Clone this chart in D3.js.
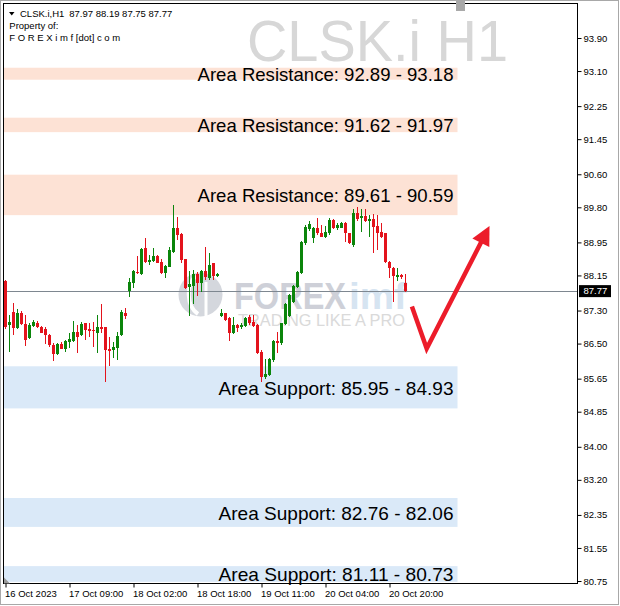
<!DOCTYPE html>
<html><head><meta charset="utf-8">
<script src="https://cdn.jsdelivr.net/npm/d3@7"></script>
<style>html,body{margin:0;padding:0;background:#fff;} svg{display:block;}</style>
</head><body>
<svg id="c" width="620" height="606"></svg>
<script>
// ---------------- DATA ----------------
const symbolTitle = "CLSK.i,H1";
const watermarkTitle = "CLSK.i H1";
const headerOHLC = [87.97, 88.19, 87.75, 87.77];
const lastPrice = 87.77;

const opens = [88.01,86.95,87.27,86.87,87.25,86.97,86.63,86.92,87.01,86.91,
86.85,86.71,86.47,86.25,86.49,86.38,86.55,86.57,86.77,86.71,
86.99,86.86,86.84,86.76,86.91,86.89,86.37,86.34,86.39,86.71,
87.24,87.78,87.96,88.24,88.18,88.81,88.47,88.51,88.62,88.48,
88.20,88.36,88.72,89.29,89.15,88.54,87.86,87.89,88.18,87.96,
88.26,88.08,88.44,88.14,87.17,87.23,87.11,86.76,86.95,86.89,
86.92,87.14,87.03,86.95,86.30,85.69,85.74,86.10,86.57,86.51,
86.97,87.17,87.51,87.86,88.20,88.93,89.27,89.05,89.29,89.17,
89.09,89.17,89.49,89.29,89.31,89.43,89.17,88.89,89.67,89.53,
89.59,89.48,89.51,89.35,89.21,89.17,88.48,88.32,88.12,88.16,
87.97];
const highs = [88.04,87.19,87.49,87.33,87.30,87.19,87.00,87.07,87.05,86.92,
86.89,86.72,86.51,86.52,86.53,86.59,86.75,87.05,86.95,87.03,
87.00,87.00,87.03,87.19,87.46,86.91,86.67,86.55,86.79,87.31,
87.35,88.08,88.28,88.62,88.81,89.05,88.64,88.81,88.64,88.56,
88.40,88.85,89.86,89.57,89.17,88.56,88.26,88.28,88.24,88.28,
88.85,88.70,88.46,88.20,87.33,87.25,87.14,87.15,86.97,86.99,
87.14,87.19,87.19,86.97,86.34,86.13,86.15,86.59,86.79,87.01,
87.49,87.70,87.92,88.26,88.99,89.37,89.48,89.33,89.53,89.37,
89.35,89.53,89.51,89.43,89.45,89.45,89.18,89.75,89.80,89.75,
89.75,89.61,89.64,89.61,89.43,89.18,88.51,88.36,88.32,88.18,
88.19];
const lows = [86.85,86.30,86.71,86.85,86.95,86.45,86.60,86.89,86.87,86.75,
86.49,86.42,86.08,86.22,86.36,86.30,86.39,86.55,86.28,86.68,
86.59,86.67,86.42,86.28,86.75,85.58,85.96,86.16,86.10,86.68,
87.09,87.62,87.84,88.18,88.16,88.44,88.40,88.48,88.44,88.18,
88.08,88.35,88.70,89.02,88.46,87.81,87.17,87.47,87.65,87.76,
88.04,88.04,88.04,88.10,87.15,87.05,86.57,86.73,86.79,86.85,
86.89,86.95,86.89,86.25,85.58,85.64,85.71,86.06,86.26,86.47,
86.95,87.15,87.48,87.85,88.18,88.89,89.23,88.93,89.13,89.07,
89.05,89.13,89.27,89.25,89.29,88.97,88.91,88.85,89.48,89.21,
89.45,89.07,88.69,88.77,89.05,88.46,88.08,87.51,88.02,88.06,
87.75];
const closes = [86.90,87.03,86.87,87.23,86.97,86.59,86.95,87.03,86.89,86.76,
86.71,86.47,86.25,86.49,86.38,86.57,86.60,86.77,86.67,86.97,
86.83,86.81,86.80,86.91,86.86,86.34,86.33,86.42,86.68,87.27,
87.17,87.98,88.26,88.20,88.78,88.48,88.52,88.62,88.46,88.20,
88.38,88.77,89.29,89.13,88.52,87.84,87.94,88.18,87.97,88.26,
88.10,88.40,88.14,88.18,87.23,87.07,86.76,86.95,86.87,86.95,
87.11,86.99,86.92,86.26,85.70,85.76,86.12,86.57,86.51,86.99,
87.47,87.68,87.89,88.24,88.97,89.33,89.39,89.29,89.17,89.09,
89.21,89.49,89.29,89.37,89.43,89.17,88.93,89.65,89.51,89.59,
89.48,89.51,89.33,89.17,89.09,88.48,88.32,88.14,88.16,88.10,
87.77];

const xTickBars = [0, 16, 32, 48, 64, 80, 96];
const xTickLabels = ["16 Oct 2023", "17 Oct 09:00", "18 Oct 02:00", "18 Oct 18:00", "19 Oct 11:00", "20 Oct 04:00", "20 Oct 20:00"];
const yTicks = [93.90, 93.10, 92.25, 91.45, 90.60, 89.80, 88.95, 88.15, 87.30, 86.50, 85.65, 84.85, 84.00, 83.20, 82.35, 81.55, 80.75];

const resistanceLow  = [92.89, 91.62, 89.61];
const resistanceHigh = [93.18, 91.97, 90.59];
const supportHigh = [85.95, 82.76, 81.11];
const supportLow  = [84.93, 82.06, 80.73];
const bandEndBar = 113;

const arrowBars   = [101.6, 105.3, 121.0];
const arrowPrices = [87.40, 86.38, 89.35];

// ---------------- LAYOUT ----------------
const plotL = 3.5, plotR = 577.5, plotT = 3.5, plotB = 583.5;
const svg = d3.select("#c");
const x = d3.scaleLinear().domain([0, 100]).range([5.5, 405.5]);
const y = d3.scaleLinear().domain([80.75, 93.90]).range([581, 38]);
const FONT = "'Liberation Sans', Arial, sans-serif";
const BULL = "#0b850b", BEAR = "#e3131c";

svg.append("rect").attr("x",0).attr("y",0).attr("width",620).attr("height",606).attr("fill","#fff");

// bands
const bands = [];
resistanceLow.forEach((lo,i)=>bands.push({lo, hi:resistanceHigh[i], type:"res", label:`Area Resistance: ${lo.toFixed(2)} - ${resistanceHigh[i].toFixed(2)}`}));
supportHigh.forEach((hi,i)=>bands.push({lo:supportLow[i], hi, type:"sup", label:`Area Support: ${hi.toFixed(2)} - ${supportLow[i].toFixed(2)}`}));

svg.append("g").selectAll("rect").data(bands).join("rect")
  .attr("x", plotL + 0.5)
  .attr("width", d => x(bandEndBar) - plotL - 0.5)
  .attr("y", d => y(d.hi))
  .attr("height", d => Math.min(y(d.lo), plotB) - y(d.hi))
  .attr("fill", d => d.type === "res" ? "#fde2d5" : "#dae9f8");

// big watermark
svg.append("text").attr("x", 247).attr("y", 61)
  .attr("font-family", FONT).attr("font-size", 58)
  .attr("textLength", 261).attr("lengthAdjust", "spacingAndGlyphs")
  .attr("fill", "#d7d7d7").text(watermarkTitle);

// FOREXimf logo watermark
const logo = svg.append("g").attr("opacity", 0.9);
logo.append("circle").attr("cx", 200.5).attr("cy", 294.5).attr("r", 22).attr("fill", "#d0d3da");
logo.append("path").attr("d", "M196,276 C186,284 186,306 198,314").attr("fill","none").attr("stroke","#fff").attr("stroke-width",4);
logo.append("path").attr("d", "M206,282 L206,316").attr("fill","none").attr("stroke","#fff").attr("stroke-width",3);
const lt = logo.append("text").attr("y", 308.5).attr("font-family", FONT).attr("font-weight","bold").attr("font-size", 36);
lt.append("tspan").attr("x", 234).attr("textLength", 112).attr("lengthAdjust","spacingAndGlyphs").attr("fill", "#c9ccd4").text("FOREX");
lt.append("tspan").attr("x", 349).attr("textLength", 58).attr("lengthAdjust","spacingAndGlyphs").attr("fill", "#d2e2f0").text("imf");
logo.append("text").attr("x", 238).attr("y", 325.5).attr("font-family", FONT).attr("font-size", 16)
  .attr("textLength", 167).attr("lengthAdjust","spacingAndGlyphs")
  .attr("fill", "#d6d6d6").text("TRADING LIKE A PRO");

// last price line
svg.append("line").attr("x1", plotL).attr("x2", plotR).attr("y1", Math.round(y(lastPrice)) + 0.5).attr("y2", Math.round(y(lastPrice)) + 0.5)
  .attr("stroke", "#7e8790").attr("stroke-width", 1);

// candles
const candles = opens.map((o,i)=>({i, o, h:highs[i], l:lows[i], c:closes[i]}));
const cg = svg.append("g").attr("shape-rendering","crispEdges");
cg.selectAll("line").data(candles).join("line")
  .attr("x1", d => x(d.i)).attr("x2", d => x(d.i))
  .attr("y1", d => y(d.h)).attr("y2", d => y(d.l))
  .attr("stroke", d => d.c >= d.o ? BULL : BEAR).attr("stroke-width", 1);
cg.selectAll("rect").data(candles).join("rect")
  .attr("x", d => x(d.i) - 1.5).attr("width", 3)
  .attr("y", d => y(Math.max(d.o, d.c)))
  .attr("height", d => Math.max(1.5, Math.abs(y(d.o) - y(d.c))))
  .attr("fill", d => d.c >= d.o ? BULL : BEAR);

// band labels
svg.append("g").selectAll("text").data(bands).join("text")
  .attr("x", x(bandEndBar) - 4)
  .attr("y", d => (y(d.hi) + y(d.lo)) / 2 + 7.5)
  .attr("text-anchor", "end")
  .attr("font-family", FONT).attr("font-size", 18.5).attr("fill", "#000")
  .attr("textLength", d => d.type === "res" ? 256 : 235)
  .attr("lengthAdjust", "spacingAndGlyphs")
  .text(d => d.label);

// frame
svg.append("rect").attr("x",0.5).attr("y",0.5).attr("width",618).attr("height",604).attr("fill","none").attr("stroke","#a8a8a8");
svg.append("path").attr("d", `M${plotL},${plotB} L${plotL},${plotT} L${plotR},${plotT} L${plotR},${plotB} Z`)
  .attr("fill","none").attr("stroke","#000").attr("shape-rendering","crispEdges");
svg.append("path").attr("d", `M${plotL+0.5},${plotB-6} L${plotL+0.5},${plotB} L${plotL+6.5},${plotB} Z`).attr("fill","#9a9a9a");
svg.append("rect").attr("x", 456).attr("y", 0).attr("width", 9).attr("height", 11).attr("fill", "#a9a9a9");

// y axis
const yAxis = svg.append("g").attr("transform", `translate(${plotR},0)`)
  .call(d3.axisRight(y).tickValues(yTicks).tickSize(4).tickPadding(2).tickSizeOuter(0).tickFormat(d3.format(".2f")));
yAxis.select(".domain").remove();
yAxis.selectAll("text").attr("font-family", FONT).attr("font-size", 9.5).attr("fill", "#000");
yAxis.selectAll("line").attr("stroke", "#000");

// x axis
const xAxis = svg.append("g").attr("transform", `translate(0,${plotB})`)
  .call(d3.axisBottom(x).tickValues(xTickBars).tickSize(4).tickPadding(3).tickFormat((d,i)=>xTickLabels[i]));
xAxis.select(".domain").remove();
xAxis.selectAll("text").attr("text-anchor","start").attr("dx", -1).attr("font-family", FONT).attr("font-size", 9.5).attr("fill", "#000");
xAxis.selectAll("line").attr("stroke", "#000");

// last price label
const ly = y(lastPrice);
svg.append("rect").attr("x", 579).attr("y", ly - 6).attr("width", 32).attr("height", 12).attr("fill", "#000");
svg.append("text").attr("x", 583.5).attr("y", ly + 3.3).attr("font-family", FONT).attr("font-size", 9.5).attr("fill", "#fff").text(lastPrice.toFixed(2));

// header
svg.append("path").attr("d", "M9,12 L14.5,12 L11.75,15.5 Z").attr("fill", "#000");
svg.append("text").attr("x", 20).attr("y", 17).attr("font-family", FONT).attr("font-size", 9.5).attr("fill", "#000").text(symbolTitle);
svg.append("text").attr("x", 69.3).attr("y", 17).attr("font-family", FONT).attr("font-size", 9.5).attr("fill", "#000").text(headerOHLC.map(v=>v.toFixed(2)).join(" "));
svg.append("text").attr("x", 9.3).attr("y", 29).attr("font-family", FONT).attr("font-size", 9.5).attr("fill", "#000").text("Property of:");
svg.append("text").attr("x", 9.3).attr("y", 40.5).attr("font-family", FONT).attr("font-size", 9.5).attr("fill", "#000").text("F O R E X i m f [dot] c o m");

// arrow
const ap = arrowBars.map((b,i)=>[x(b), y(arrowPrices[i])]);
const tip = ap[2], prev = ap[1];
const dx = tip[0]-prev[0], dy = tip[1]-prev[1], len = Math.hypot(dx,dy);
const ux = dx/len, uy = dy/len, hl = 19, hw = 9.5;
const base = [tip[0]-ux*hl, tip[1]-uy*hl];
svg.append("path").attr("d", d3.line()([ap[0], ap[1], [base[0]+ux*2, base[1]+uy*2]]))
  .attr("fill","none").attr("stroke","#ec1c2a").attr("stroke-width",4.5).attr("stroke-linejoin","miter");
svg.append("path").attr("d", d3.line()([tip, [base[0]-uy*hw, base[1]+ux*hw], [base[0]+uy*hw, base[1]-ux*hw]]) + "Z")
  .attr("fill","#ec1c2a");
</script>
</body></html>
